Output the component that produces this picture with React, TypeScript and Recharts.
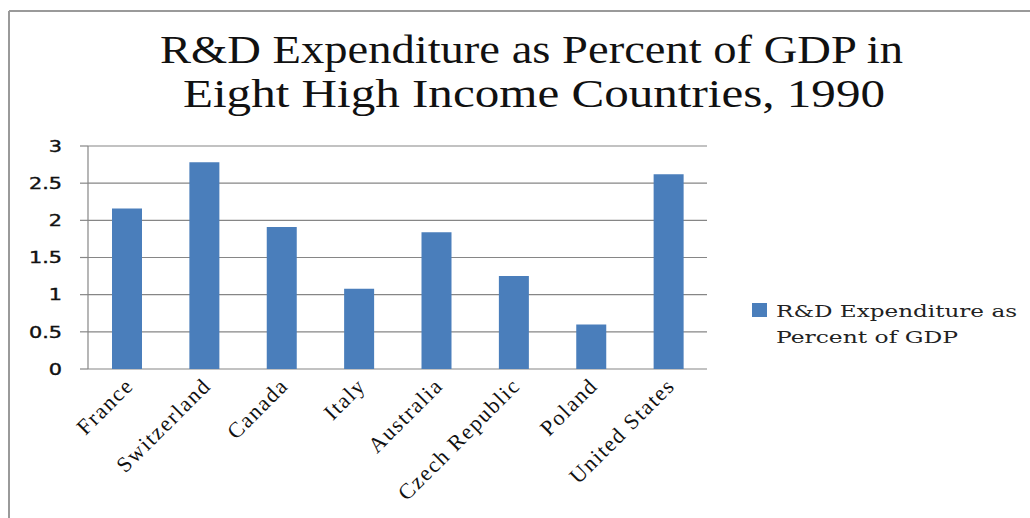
import React from "react";
import { BarChart, Bar, XAxis, YAxis, CartesianGrid, Legend } from "recharts";

const countries = ["France", "Switzerland", "Canada", "Italy", "Australia", "Czech Republic", "Poland", "United States"];
const rdValues = [2.16, 2.78, 1.91, 1.08, 1.84, 1.25, 0.6, 2.62];
const yTicks = [0, 0.5, 1, 1.5, 2, 2.5, 3];
const boundaryTicks = [0, 1, 2, 3, 4, 5, 6, 7, 8];
const seriesName = "R&D Expenditure as Percent of GDP";
const titleLines = ["R&D Expenditure as Percent of GDP in", "Eight High Income Countries, 1990"];
const legendLines = ["R&D Expenditure as", "Percent of GDP"];

const data = countries.map((c, i) => ({ country: c, pos: i + 0.5, value: rdValues[i] }));

const BAR = "#4a7ebb";
const GRID = "#868686";

const YTick = (props: any) => {
  const { x, y, payload } = props;
  return (
    <text
      transform={`translate(${x},${y}) scale(1.3,1)`}
      textAnchor="end"
      dy="0.36em"
      fontFamily="'DejaVu Sans', sans-serif"
      fontSize={16}
      fill="#111"
      stroke="#111"
      strokeWidth={0.4}
    >
      {String(payload.value)}
    </text>
  );
};

const XTick = (props: any) => {
  const { x, y, payload } = props;
  return (
    <g transform={`translate(${x + 8},${y + 17})`}>
      <text
        transform="rotate(-45)"
        textAnchor="end"
        fontFamily="'Liberation Serif', 'Times New Roman', serif"
        fontSize={22}
        letterSpacing={1.6}
        fill="#111"
      >
        {payload.value}
      </text>
    </g>
  );
};

const LegendContent = () => (
  <svg width={285} height={60}>
    <rect x={7} y={8} width={15} height={14} fill={BAR} />
    <text x={31} y={22} fontFamily="'DejaVu Serif', serif" fontSize={16} fill="#222" textLength={241} lengthAdjust="spacingAndGlyphs">
      {legendLines[0]}
    </text>
    <text x={31} y={48} fontFamily="'DejaVu Serif', serif" fontSize={16} fill="#222" textLength={182} lengthAdjust="spacingAndGlyphs">
      {legendLines[1]}
    </text>
  </svg>
);

export default function App() {
  return (
    <div style={{ position: "absolute", left: 0, top: 0, width: 1030, height: 518, background: "#fff", overflow: "hidden" }}>
      <BarChart
        width={1030}
        height={518}
        data={data}
        margin={{ top: 146, right: 323, bottom: 147, left: 0 }}
        barCategoryGap={0}
      >
        <CartesianGrid horizontal vertical={false} stroke={GRID} strokeWidth={1.2} />
        <XAxis
          xAxisId="bnd"
          type="number"
          dataKey="pos"
          domain={[0, 8]}
          ticks={boundaryTicks}
          height={1}
          axisLine={false}
          tickLine={{ stroke: GRID, strokeWidth: 1.2 }}
          tickSize={7}
          tick={false}
          allowDataOverflow
        />
        <XAxis
          xAxisId="cat"
          dataKey="country"
          type="category"
          height={1}
          tickLine={false}
          tickSize={0}
          tickMargin={0}
          axisLine={false}
          interval={0}
          tick={<XTick />}
        />
        <YAxis
          width={88}
          domain={[0, 3]}
          ticks={yTicks}
          interval={0}
          axisLine={{ stroke: GRID, strokeWidth: 1.2 }}
          tickLine={{ stroke: GRID, strokeWidth: 1.2 }}
          tickSize={8}
          tickMargin={18}
          tick={<YTick />}
        />
        <Legend
          layout="horizontal"
          align="center"
          verticalAlign="middle"
          wrapperStyle={{ left: 745, top: 295, width: 285, height: 60 }}
          content={<LegendContent />}
        />
        <Bar xAxisId="cat" dataKey="value" name={seriesName} fill={BAR} barSize={30} isAnimationActive={false} />
      </BarChart>
      <svg
        width={1030}
        height={518}
        style={{ position: "absolute", left: 0, top: 0, pointerEvents: "none" }}
      >
        <line x1={9} y1={11} x2={9} y2={518} stroke="#9a9a9a" strokeWidth={2} />
        <line x1={9} y1={11} x2={1030} y2={11} stroke="#9a9a9a" strokeWidth={2} />
        <text x={160} y={63} fontFamily="'Liberation Serif', 'Times New Roman', serif" fontSize={39} fill="#111" textLength={743} lengthAdjust="spacingAndGlyphs">
          {titleLines[0]}
        </text>
        <text x={183} y={107} fontFamily="'Liberation Serif', 'Times New Roman', serif" fontSize={39} fill="#111" textLength={702} lengthAdjust="spacingAndGlyphs">
          {titleLines[1]}
        </text>
      </svg>
    </div>
  );
}
